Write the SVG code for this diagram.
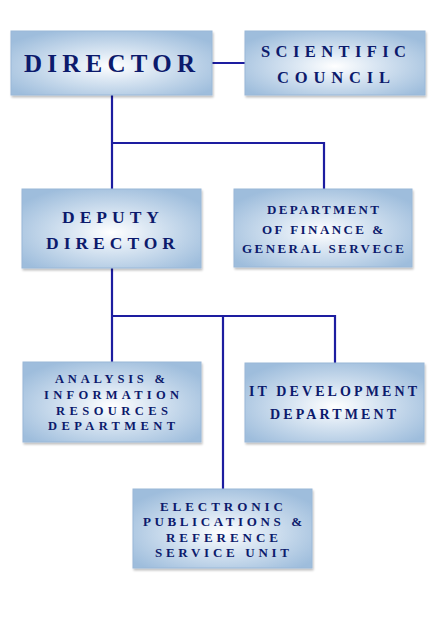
<svg xmlns="http://www.w3.org/2000/svg" width="447" height="632" viewBox="0 0 447 632">
<defs>
<radialGradient id="g" cx="50%" cy="55%" r="62%">
<stop offset="0%" stop-color="#ffffff"/>
<stop offset="35%" stop-color="#dbe7f3"/>
<stop offset="100%" stop-color="#9ebddc"/>
</radialGradient>
<filter id="sh" x="-5%" y="-5%" width="112%" height="115%">
<feGaussianBlur in="SourceAlpha" stdDeviation="1"/>
<feOffset dx="1" dy="1.5"/>
<feComponentTransfer><feFuncA type="linear" slope="0.25"/></feComponentTransfer>
<feMerge><feMergeNode/><feMergeNode in="SourceGraphic"/></feMerge>
</filter>
</defs>
<style>
.box{fill:url(#g);stroke:#9ab8d8;stroke-width:1;filter:url(#sh)}
.t{font-family:"Liberation Serif","Times New Roman",serif;font-weight:bold;fill:#0c1a6c}
.c{fill:none;stroke:#1d1da0;stroke-width:2.2}
</style>
<rect width="447" height="632" fill="#ffffff"/>
<g id="connectors">
<line class="c" x1="212" y1="63" x2="245" y2="63"/>
<polyline class="c" points="112,95 112,189"/>
<polyline class="c" points="112,143 324,143 324,189"/>
<polyline class="c" points="112,268 112,363"/>
<polyline class="c" points="112,316 335,316 335,363"/>
<polyline class="c" points="223,316 223,489"/>
</g>
<g id="director">
<rect class="box" x="11" y="31" width="201" height="64"/>
<text class="t" x="24" y="72" font-size="25" textLength="171" lengthAdjust="spacing">DIRECTOR</text>
</g>
<g id="scientific-council">
<rect class="box" x="245" y="31" width="180" height="64"/>
<text class="t" x="261" y="57" font-size="16.5" textLength="145" lengthAdjust="spacing">SCIENTIFIC</text>
<text class="t" x="277" y="83" font-size="16.5" textLength="113" lengthAdjust="spacing">COUNCIL</text>
</g>
<g id="deputy-director">
<rect class="box" x="22" y="189" width="179" height="79"/>
<text class="t" x="62" y="223" font-size="17.5" textLength="97" lengthAdjust="spacing">DEPUTY</text>
<text class="t" x="46" y="249" font-size="17.5" textLength="129" lengthAdjust="spacing">DIRECTOR</text>
</g>
<g id="finance">
<rect class="box" x="234" y="189" width="178" height="78"/>
<text class="t" x="267" y="214" font-size="13" textLength="112" lengthAdjust="spacing">DEPARTMENT</text>
<text class="t" x="262" y="234" font-size="13" textLength="121" lengthAdjust="spacing">OF FINANCE &amp;</text>
<text class="t" x="242" y="253" font-size="13" textLength="162" lengthAdjust="spacing">GENERAL SERVECE</text>
</g>
<g id="analysis">
<rect class="box" x="23" y="362" width="178" height="80"/>
<text class="t" x="55" y="383" font-size="12.5" textLength="110" lengthAdjust="spacing">ANALYSIS &amp;</text>
<text class="t" x="44" y="399" font-size="12.5" textLength="135" lengthAdjust="spacing">INFORMATION</text>
<text class="t" x="56" y="415" font-size="12.5" textLength="112" lengthAdjust="spacing">RESOURCES</text>
<text class="t" x="48" y="430" font-size="12.5" textLength="127" lengthAdjust="spacing">DEPARTMENT</text>
</g>
<g id="it-development">
<rect class="box" x="245" y="363" width="179" height="79"/>
<text class="t" x="249" y="396" font-size="14" textLength="168" lengthAdjust="spacing">IT DEVELOPMENT</text>
<text class="t" x="270" y="419" font-size="14" textLength="126" lengthAdjust="spacing">DEPARTMENT</text>
</g>
<g id="electronic-publications">
<rect class="box" x="133" y="489" width="179" height="79"/>
<text class="t" x="160" y="511" font-size="13" textLength="123" lengthAdjust="spacing">ELECTRONIC</text>
<text class="t" x="143" y="526" font-size="13" textLength="159" lengthAdjust="spacing">PUBLICATIONS &amp;</text>
<text class="t" x="166" y="542" font-size="13" textLength="112" lengthAdjust="spacing">REFERENCE</text>
<text class="t" x="155" y="557" font-size="13" textLength="134" lengthAdjust="spacing">SERVICE UNIT</text>
</g>
</svg>
